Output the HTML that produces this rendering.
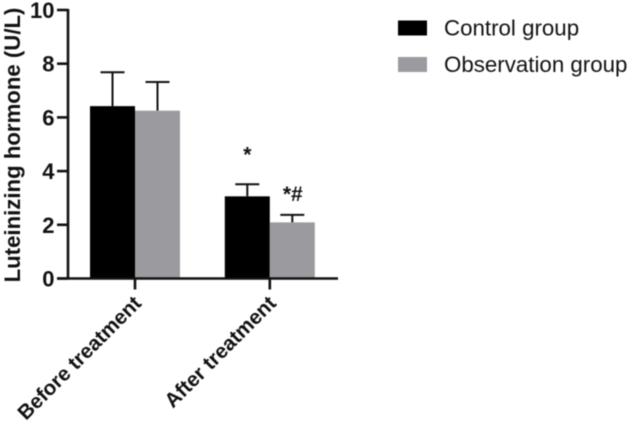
<!DOCTYPE html>
<html>
<head>
<meta charset="utf-8">
<style>
html,body{margin:0;padding:0;background:#fff;}
svg{display:block;filter:blur(0.4px);}
text{font-family:"Liberation Sans",Arial,sans-serif;fill:#111;}
</style>
</head>
<body>
<svg id="chart" xmlns="http://www.w3.org/2000/svg" width="630" height="425" viewBox="0 0 630 425"></svg>
<script>
const categories = ["Before treatment", "After treatment"];
const seriesNames = ["Control group", "Observation group"];
const controlValues = [6.42, 3.06];
const observationValues = [6.25, 2.09];
const controlErrors = [1.26, 0.45];
const observationErrors = [1.07, 0.28];
const yTicks = [0, 2, 4, 6, 8, 10];
const controlMarks = ["", "*"];
const observationMarks = ["", "*#"];

const svg = document.getElementById('chart');
const NS = 'http://www.w3.org/2000/svg';
const colors = ['#000000', '#9b9b9f'];
const y0 = 278.5, yTop = 10, xAxis = 68;
const barW = 45;
function yScale(v) { return y0 - (v / 10) * (y0 - yTop); }
function xCenter(i) { return 135 + i * 134.8; }

function make(tag, attrs, text) {
  const el = document.createElementNS(NS, tag);
  for (const k in attrs) el.setAttribute(k, attrs[k]);
  if (text !== undefined) el.textContent = text;
  svg.appendChild(el);
  return el;
}
function line(x1, y1, x2, y2, w) {
  return make('line', { x1: x1, y1: y1, x2: x2, y2: y2, stroke: '#111', 'stroke-width': w });
}

[controlValues, observationValues].forEach(function (vals, s) {
  const errs = s === 0 ? controlErrors : observationErrors;
  const marks = s === 0 ? controlMarks : observationMarks;
  vals.forEach(function (v, i) {
    const left = xCenter(i) + (s === 0 ? -barW : 0);
    const mid = left + barW / 2;
    const errV = line(mid, yScale(v + errs[i]), mid, yScale(v), 2);
    
    
    const cap = line(mid - 12, yScale(v + errs[i]), mid + 12, yScale(v + errs[i]), 2);
    
    
    const bar = make('rect', { x: left, y: yScale(v), width: barW, height: y0 - yScale(v), fill: colors[s] });
    
    
    if (marks[i]) {
      const m = make('text', { x: mid + (s === 0 ? 0 : 0.5), y: yScale(v + errs[i]) + (s === 0 ? -23 : -14), 'text-anchor': 'middle', 'font-size': 21, 'font-weight': 'bold' }, marks[i]);
      
      
    }
  });
});

const yAxis = line(xAxis, yTop - 1, xAxis, y0 + 1, 2.6);


const xAxisLine = line(57, y0, 338, y0, 2.6);



yTicks.forEach(function (t) {
  const tk = line(57, yScale(t), xAxis, yScale(t), 2.6);
  
  
  const lb = make('text', { x: 54.5, y: yScale(t) + 8, 'text-anchor': 'end', 'font-size': 22, 'font-weight': 'bold' }, t);
  
  
});

categories.forEach(function (c, i) {
  const x = xCenter(i);
  const tk = line(x, y0, x, y0 + 11, 2.6);
  
  
  const lb = make('text', { x: x + 7.5, y: 304.5, 'text-anchor': 'end', 'font-size': 20.6, 'font-weight': 'bold', transform: 'rotate(-45 ' + (x + 7.5) + ' 304.5)' }, c);
  
  
});

const yTitle = make('text', { x: 0, y: 0, 'text-anchor': 'middle', 'font-size': 22.2, 'font-weight': 'bold', transform: 'translate(20 145) rotate(-90)' }, 'Luteinizing hormone (U/L)');



seriesNames.forEach(function (n, i) {
  const yy = 28 + i * 36.5;
  const sw = make('rect', { x: 398, y: yy - 7.5, width: 29, height: 15, fill: colors[i] });
  
  
  const lb = make('text', { x: 444, y: yy + 7.5, 'font-size': 22.3 }, n);
  
  
});
</script>
</body>
</html>
